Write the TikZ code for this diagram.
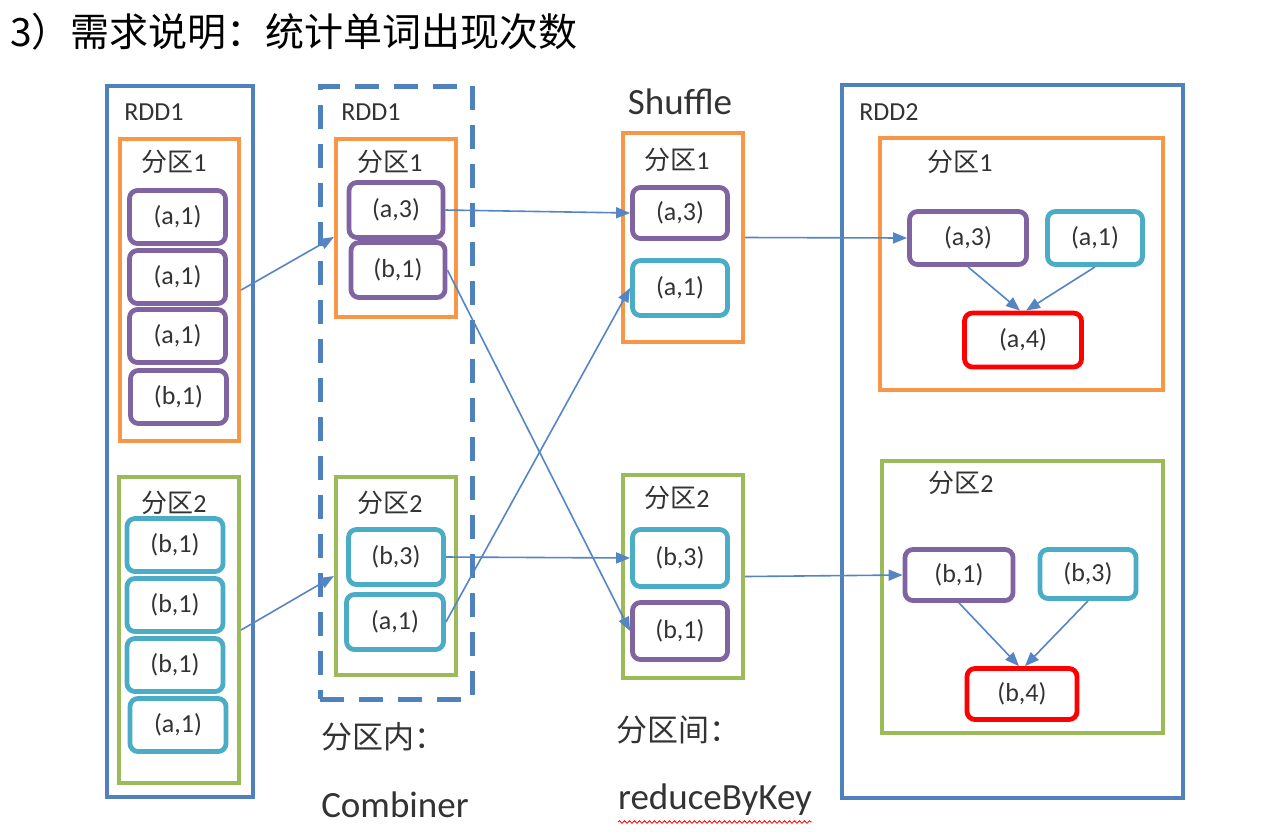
\documentclass[tikz,border=0pt]{standalone}
\usepackage{fontspec}
\setmainfont{Carlito}
\newfontfamily\cjk{Noto Sans CJK SC}
\usetikzlibrary{arrows.meta,decorations.pathmorphing}
\definecolor{rddblue}{HTML}{4F81BD}
\definecolor{orng}{HTML}{F79646}
\definecolor{purp}{HTML}{8064A2}
\definecolor{cyn}{HTML}{4BACC6}
\definecolor{grn}{HTML}{9BBB59}
\definecolor{arr}{HTML}{5585C5}
\definecolor{txt}{HTML}{333333}
\begin{document}
\begin{tikzpicture}[x=1pt,y=-1pt,
  every node/.style={text=txt},
  item/.style={draw, rounded corners=8pt, line width=4.8pt, inner sep=0pt,
    minimum width=96pt, minimum height=53pt, font=\fontsize{26}{26}\selectfont},
  pu/.style={item, draw=purp},
  cy/.style={item, draw=cyn},
  rd/.style={item, draw=red},
  part/.style={draw, line width=4.2pt, inner sep=0pt},
  orp/.style={part, draw=orng},
  grp/.style={part, draw=grn},
  rddbox/.style={draw=rddblue, line width=4.8pt, inner sep=0pt},
  lab/.style={font=\fontsize{26}{26}\selectfont, inner sep=0pt},
  big/.style={font=\fontsize{34}{34}\selectfont, inner sep=0pt},
  conn/.style={draw=arr, line width=1.6pt, -{Triangle[length=14pt,width=11pt]}}
]
\useasboundingbox (0,0) rectangle (1265,831);
\fill[white] (0,0) rectangle (1265,831);

% title
\node[anchor=west, inner sep=0pt, text=black, font=\fontsize{39}{39}\selectfont\cjk] (title) at (10,32) {3）需求说明：统计单词出现次数};

% ---------- left RDD1
\node[rddbox, minimum width=146pt, minimum height=711pt] (lrdd) at (180,441.5) {};
\node[lab] (lrddl) at (154,112) {RDD1};
\node[orp, minimum width=119pt, minimum height=302pt] (lp1) at (179.5,290) {};
\node[lab] (lp1l) at (174,162) {{\cjk 分区}1};
\node[pu] (l11) at (177.5,217) {(a,1)};
\node[pu] (l12) at (177.5,277) {(a,1)};
\node[pu] (l13) at (177.5,336) {(a,1)};
\node[pu] (l14) at (178.5,397) {(b,1)};
\node[grp, minimum width=120pt, minimum height=306pt] (lp2) at (179,630) {};
\node[lab] (lp2l) at (174,503) {{\cjk 分区}2};
\node[cy] (l21) at (175,545) {(b,1)};
\node[cy] (l22) at (175,605) {(b,1)};
\node[cy] (l23) at (175,665) {(b,1)};
\node[cy] (l24) at (178,725) {(a,1)};

% ---------- middle (combiner)
\node[draw=rddblue, line width=5pt, dash pattern=on 24pt off 15pt, inner sep=0pt,
  minimum width=152pt, minimum height=613pt] (mrdd) at (396,392.5) {};
\node[lab] (mrddl) at (371,112) {RDD1};
\node[orp, minimum width=120pt, minimum height=178pt] (mp1) at (396,228) {};
\node[lab] (mp1l) at (390,162) {{\cjk 分区}1};
\node[pu, minimum width=94pt, minimum height=55pt] (ma3) at (396,210) {(a,3)};
\node[pu, minimum width=94pt, minimum height=55pt] (mb1) at (398,270) {(b,1)};
\node[grp, minimum width=120pt, minimum height=198pt] (mp2) at (396,576) {};
\node[lab] (mp2l) at (390,503) {{\cjk 分区}2};
\node[cy, minimum width=95pt, minimum height=55pt] (mb3) at (396,557) {(b,3)};
\node[cy, minimum width=97pt, minimum height=55pt] (ma1) at (395,622) {(a,1)};
\node[big, font=\fontsize{31}{31}\selectfont\cjk] (inner) at (383,737) {分区内：};
\node[big, font=\fontsize{37}{37}\selectfont] (comb) at (395,805) {Combiner};

% ---------- shuffle
\node[big, font=\fontsize{37}{37}\selectfont] (shuf) at (680,102) {Shuffle};
\node[orp, minimum width=120pt, minimum height=209pt] (sp1) at (683,237.5) {};
\node[lab] (sp1l) at (677,160) {{\cjk 分区}1};
\node[pu, minimum width=95pt, minimum height=51pt] (sa3) at (680,213) {(a,3)};
\node[cy, minimum width=95pt, minimum height=55pt] (sa1) at (680,288) {(a,1)};
\node[grp, minimum width=120pt, minimum height=203pt] (sp2) at (683,576.5) {};
\node[lab] (sp2l) at (677,498) {{\cjk 分区}2};
\node[cy, minimum width=95pt, minimum height=57pt] (sb3) at (680,558) {(b,3)};
\node[pu, minimum width=95pt, minimum height=57pt] (sb1) at (680,631) {(b,1)};
\node[big, font=\fontsize{31}{31}\selectfont\cjk] (between) at (678,730) {分区间：};
\node[big, font=\fontsize{37}{37}\selectfont] (rbk) at (715,800) {reduceByKey};
\draw[red, line width=0.8pt, decorate, decoration={snake, amplitude=1.3pt, segment length=5pt}]
  ([yshift=-6pt]rbk.south west) -- ([yshift=-6pt]rbk.south east);

% ---------- RDD2
\node[rddbox, minimum width=341pt, minimum height=713pt] (rrdd) at (1012.5,441.5) {};
\node[lab] (rrddl) at (889,112) {RDD2};
\node[orp, minimum width=283pt, minimum height=252pt] (rp1) at (1021.5,264) {};
\node[lab] (rp1l) at (960,162) {{\cjk 分区}1};
\node[pu, minimum width=117pt, minimum height=53pt] (ra3) at (968,238) {(a,3)};
\node[cy, minimum width=95pt, minimum height=53pt] (ra1) at (1095,238) {(a,1)};
\node[rd, minimum width=117pt, minimum height=54pt] (ra4) at (1023,340) {(a,4)};
\node[grp, minimum width=281pt, minimum height=272pt] (rp2) at (1022.5,597) {};
\node[lab] (rp2l) at (961,483) {{\cjk 分区}2};
\node[pu, minimum width=108pt, minimum height=51pt] (rb1) at (959,575) {(b,1)};
\node[cy, minimum width=96pt, minimum height=49pt] (rb3) at (1088,574) {(b,3)};
\node[rd, minimum width=110pt, minimum height=51pt] (rb4) at (1022,694) {(b,4)};

% ---------- connectors
\path[conn] (lp1.east) -- ([yshift=-9pt]mp1.west);
\path[conn] (lp2.east) -- (mp2.west);
\path[conn] (ma3.east) -- (sa3.west);
\path[conn] (mb1.east) -- (sb1.west);
\path[conn] (mb3.east) -- (sb3.west);
\path[conn] (ma1.east) -- (sa1.west);
\path[conn] (sp1.east) -- (ra3.west);
\path[conn] (sp2.east) -- (rb1.west);
\path[conn] (ra3.south) -- ([xshift=-3pt]ra4.north);
\path[conn] (ra1.south) -- ([xshift=3pt]ra4.north);
\path[conn] (rb1.south) -- ([xshift=-3pt]rb4.north);
\path[conn] (rb3.south) -- ([xshift=3pt]rb4.north);
\end{tikzpicture}
\end{document}
